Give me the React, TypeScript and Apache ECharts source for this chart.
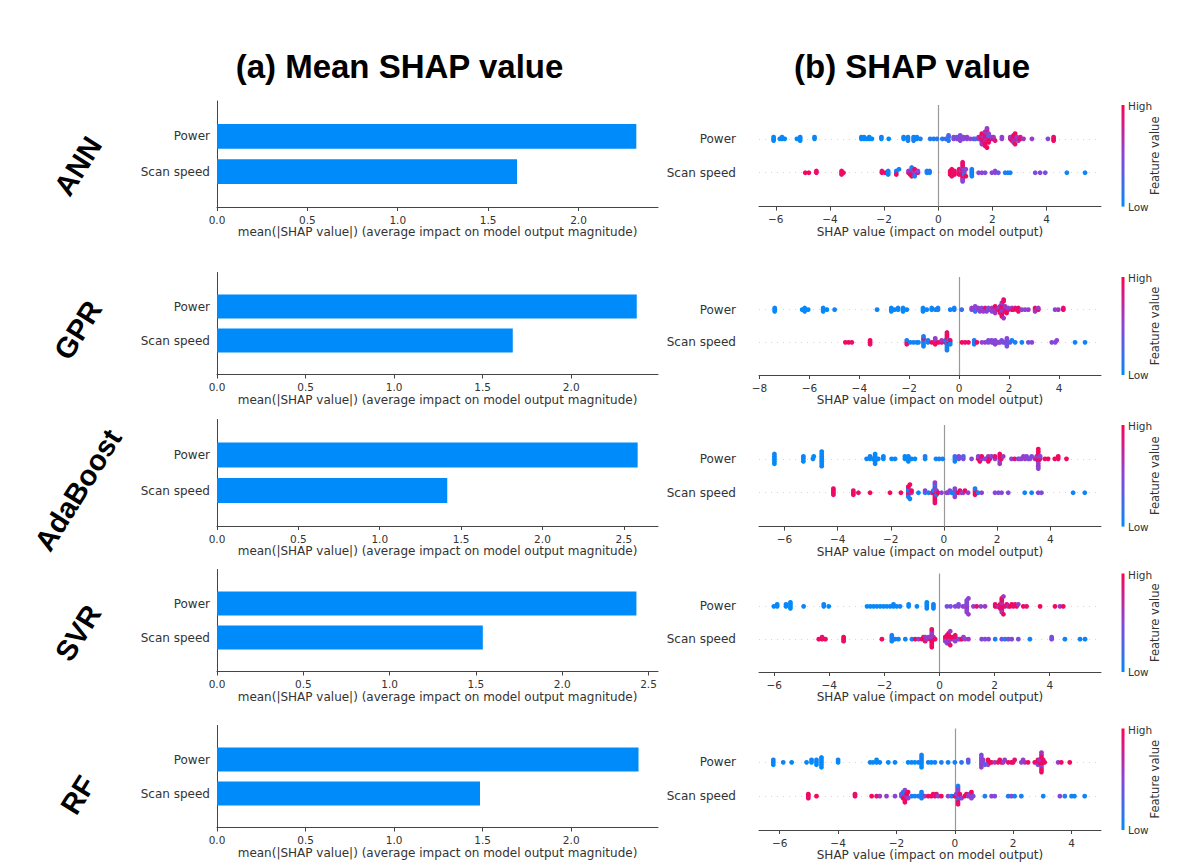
import React, { useEffect, useRef } from 'react';
import * as echarts from 'echarts';

// ---------- data ----------
const models = ['ANN', 'GPR', 'AdaBoost', 'SVR', 'RF'];
const featureNames = ['Scan speed', 'Power']; // y = 0, y = 1
const meanPower = [2.32, 2.37, 2.585, 2.43, 2.38];
const meanScan = [1.66, 1.67, 1.415, 1.54, 1.485];
const barAxisMax = [2.44, 2.49, 2.71, 2.555, 2.49];
const barTicks = [0, 0.5, 1, 1.5, 2, 2.5];
const swarmAxisMin = [-6.62, -8.02, -6.96, -6.55, -6.71];
const swarmAxisMax = [6.01, 5.68, 5.91, 5.86, 5.01];
const swarmTicks = [-8, -6, -4, -2, 0, 2, 4];

// [SHAP value, feature value (0 = low, 1 = high)]
const annPower = [
  [-6.08, 0], [-6.08, 0], [-6.08, 0.05], [-5.85, 0], [-5.77, 0], [-5.77, 0.05], [-5.67, 0],
  [-5.22, 0], [-5.1, 0], [-5.1, 0.05], [-5.1, 0], [-4.57, 0], [-4.57, 0.05],
  [-2.84, 0.05], [-2.84, 0], [-2.74, 0], [-2.74, 0.05], [-2.64, 0], [-2.55, 0.05], [-2.55, 0], [-2.45, 0],
  [-2.1, 0], [-2.1, 0.05], [-1.83, 0],
  [-1.28, 0], [-1.28, 0.05], [-1.12, 0], [-1.12, 0.05], [-1.12, 0.1], [-0.91, 0], [-0.91, 0.05], [-0.91, 0.1],
  [-0.79, 0.05], [-0.79, 0], [-0.66, 0.1], [-0.3, 0.1], [-0.17, 0.1], [-0.05, 0.15],
  [0.15, 0.15], [0.28, 0.2], [0.38, 0.1], [0.38, 0.15], [0.38, 0.3],
  [0.57, 0.45], [0.57, 0.5], [0.69, 0.5], [0.69, 0.4], [0.81, 0.5], [0.81, 0.55], [0.81, 0.5], [0.81, 0.45], [0.93, 0.45], [0.93, 0.5],
  [1.06, 0.5], [1.06, 0.55], [1.18, 0.5], [1.3, 0.45], [1.37, 0.2],
  [1.49, 0.6], [1.49, 0.5], [1.55, 0.5], [1.55, 0.9], [1.61, 0.9], [1.61, 0.7], [1.61, 0.55], [1.61, 0.95], [1.61, 0.6],
  [1.67, 0.9], [1.67, 0.6], [1.67, 0.95],
  [1.73, 0.95], [1.73, 0.85], [1.73, 0.6], [1.73, 0.9], [1.73, 0.75], [1.73, 0.9], [1.73, 0.95], [1.73, 0.55], [1.73, 0.95],
  [1.8, 0.9], [1.8, 0.95], [1.8, 0.55],
  [1.86, 0.9], [1.86, 0.6], [1.86, 0.95], [1.86, 0.2], [1.86, 0.95], [1.86, 0.5], [1.98, 0.9], [1.98, 0.55], [2.04, 0.95], [2.04, 0.6], [2.1, 0.85],
  [2.35, 0.5], [2.35, 0.55], [2.66, 0.95], [2.66, 0.6], [2.72, 0.95], [2.78, 0.9], [2.78, 0.95], [2.78, 0.7], [2.78, 0.95], [2.78, 0.6],
  [2.84, 0.95], [2.84, 0.9], [2.9, 0.9], [2.9, 0.55], [2.96, 0.6], [3.03, 0.95], [3.03, 0.8], [3.15, 0.6], [3.46, 0.55],
  [4.05, 0.5], [4.26, 0.95], [4.26, 0.9], [4.26, 0.95],
];
const annScan = [
  [-4.91, 0.95], [-4.78, 0.95], [-4.5, 0.95], [-4.5, 0.9], [-3.57, 0.95], [-3.57, 0.95], [-3.57, 0.9], [-3.5, 0.95],
  [-2.08, 0.95], [-2.08, 0.9], [-1.96, 0.95], [-1.85, 0.05], [-1.85, 0.1], [-1.85, 0.05],
  [-1.55, 0.05], [-1.55, 0.1], [-1.55, 0.95], [-1.45, 0.05],
  [-1.1, 0.95], [-1.1, 0.6], [-1.04, 0.9], [-0.98, 0.9], [-0.98, 0.6], [-0.98, 0.95], [-0.98, 0.3], [-0.98, 0.95], [-0.98, 0.1],
  [-0.92, 0.95], [-0.92, 0.55],
  [-0.87, 0.55], [-0.87, 0.95], [-0.87, 0.1], [-0.75, 0.9], [-0.75, 0.5], [-0.42, 0.05], [-0.42, 0.1], [-0.32, 0.05], [-0.32, 0.1],
  [0.44, 0.95], [0.44, 0.9], [0.44, 0.95], [0.5, 0.95], [0.5, 0.9], [0.6, 0.95], [0.6, 0.9], [0.6, 0.95],
  [0.77, 0.95], [0.77, 0.6], [0.77, 0.9], [0.77, 0.95], [0.84, 0.95], [0.84, 0.6], [0.84, 0.9],
  [0.9, 0.95], [0.9, 0.9], [0.9, 0.55], [0.9, 0.95], [0.9, 0.85], [0.9, 0.6], [0.9, 0.95], [0.9, 0.5], [0.9, 0.9],
  [0.96, 0.95], [0.96, 0.55], [0.96, 0.1], [1.02, 0.5], [1.02, 0.95],
  [1.24, 0.05], [1.24, 0.1], [1.24, 0.05], [1.24, 0.1], [1.24, 0.05], [1.49, 0.5], [1.61, 0.5], [1.73, 0.45],
  [1.98, 0.5], [2.1, 0.45], [2.1, 0.5], [2.22, 0.4], [2.47, 0.1], [2.57, 0.1], [2.66, 0.05],
  [3.58, 0.45], [3.76, 0.5], [3.95, 0.4], [4.75, 0.05], [5.42, 0.05],
];
const gprPower = [
  [-7.39, 0], [-7.39, 0.05], [-7.39, 0], [-6.29, 0], [-6.19, 0], [-6.19, 0.05], [-6.05, 0],
  [-5.45, 0], [-5.45, 0.05], [-5.45, 0], [-5.3, 0], [-4.99, 0.05], [-3.29, 0.05],
  [-2.72, 0], [-2.72, 0.05], [-2.72, 0], [-2.59, 0.05], [-2.45, 0], [-2.45, 0.05], [-2.25, 0], [-2.25, 0.05], [-2.25, 0], [-2.1, 0.05],
  [-1.45, 0], [-1.45, 0.05], [-1.45, 0], [-1.3, 0.05], [-1.1, 0], [-1.1, 0.05], [-0.95, 0], [-0.85, 0.05], [-0.85, 0.1],
  [-0.36, 0.05], [-0.2, 0.1], [-0.2, 0.05], [0.1, 0.2],
  [0.5, 0.5], [0.5, 0.55], [0.64, 0.45], [0.64, 0.5], [0.64, 0.2], [0.64, 0.5], [0.77, 0.5], [0.77, 0.55], [0.83, 0.5],
  [0.9, 0.6], [0.9, 0.5], [0.97, 0.55], [1.04, 0.5], [1.04, 0.9], [1.1, 0.5], [1.17, 0.55], [1.17, 0.45], [1.24, 0.5],
  [1.31, 0.6], [1.31, 0.5], [1.44, 0.9], [1.44, 0.5], [1.44, 0.55], [1.44, 0.95], [1.44, 0.6], [1.57, 0.95], [1.57, 0.6],
  [1.64, 0.95], [1.64, 0.55], [1.64, 0.9],
  [1.71, 0.9], [1.71, 0.95], [1.71, 0.5], [1.71, 0.85], [1.71, 0.6], [1.71, 0.95], [1.71, 0.9], [1.71, 0.55], [1.71, 0.95],
  [1.78, 0.95], [1.78, 0.6], [1.78, 0.9],
  [1.84, 0.95], [1.84, 0.55], [1.84, 0.9], [1.84, 0.6], [1.9, 0.95], [1.97, 0.9], [1.97, 0.5],
  [2.11, 0.95], [2.11, 0.6], [2.17, 0.9], [2.24, 0.85], [2.3, 0.95], [2.37, 0.95], [2.37, 0.9], [2.51, 0.55], [2.64, 0.5], [2.77, 0.55],
  [3.04, 0.95], [3.04, 0.9], [3.04, 0.6], [3.17, 0.95], [3.17, 0.55], [3.84, 0.5], [3.97, 0.6], [4.17, 0.95], [4.17, 0.9],
];
const gprScan = [
  [-4.56, 0.95], [-4.43, 0.95], [-4.3, 0.9], [-3.57, 0.95], [-3.57, 0.95], [-3.57, 0.9],
  [-2.1, 0.95], [-2.1, 0.05], [-2.1, 0.9], [-1.96, 0.05], [-1.83, 0.05], [-1.7, 0.1], [-1.63, 0.05],
  [-1.43, 0.05], [-1.43, 0.1], [-1.43, 0.05], [-1.43, 0.95], [-1.43, 0.05], [-1.43, 0.1], [-1.25, 0.05], [-1.25, 0.1],
  [-1.1, 0.95], [-0.96, 0.9], [-0.96, 0.6], [-0.96, 0.95], [-0.96, 0.55], [-0.83, 0.95], [-0.7, 0.9], [-0.7, 0.6],
  [-0.55, 0.9], [-0.55, 0.1],
  [-0.49, 0.05], [-0.49, 0.95], [-0.49, 0.1], [-0.49, 0.9], [-0.49, 0.05], [-0.49, 0.95], [-0.49, 0.1], [-0.49, 0.9],
  [-0.42, 0.95], [-0.42, 0.05], [-0.36, 0.05], [-0.36, 0.95], [-0.36, 0.05],
  [0.11, 0.95], [0.24, 0.9], [0.37, 0.95], [0.6, 0.05], [0.6, 0.1], [0.6, 0.05], [0.71, 0.95],
  [0.91, 0.5], [1.04, 0.55], [1.17, 0.5], [1.17, 0.45], [1.31, 0.5], [1.3, 0.5], [1.37, 0.45], [1.44, 0.5], [1.44, 0.55],
  [1.51, 0.45], [1.57, 0.5], [1.64, 0.5], [1.7, 0.45], [1.77, 0.4], [1.84, 0.5], [1.91, 0.5], [1.91, 0.3], [1.91, 0.5], [1.91, 0.45],
  [2.04, 0.35], [2.11, 0.05],
  [2.24, 0.1], [2.51, 0.05], [2.77, 0.45], [2.91, 0.5], [3.71, 0.5], [3.85, 0.45], [3.91, 0.5], [4.64, 0.05], [5.04, 0.05],
];
const adaPower = [
  [-6.38, 0], [-6.38, 0.05], [-6.38, 0], [-6.38, 0.05], [-6.38, 0], [-5.29, 0], [-5.29, 0.05], [-5.29, 0], [-4.93, 0.05], [-4.9, 0],
  [-4.6, 0], [-4.6, 0.05], [-4.6, 0], [-4.6, 0.05], [-4.6, 0], [-4.6, 0], [-4.6, 0.05],
  [-2.91, 0.05], [-2.78, 0], [-2.78, 0.05], [-2.66, 0], [-2.59, 0.05], [-2.59, 0], [-2.59, 0], [-2.59, 0.05], [-2.47, 0.05], [-2.28, 0], [-2.28, 0.05],
  [-1.97, 0], [-1.84, 0.05], [-1.47, 0], [-1.47, 0.05], [-1.34, 0], [-1.34, 0.05], [-1.34, 0], [-1.22, 0.05], [-1.09, 0],
  [-0.71, 0.05], [-0.71, 0.1], [-0.3, 0.05], [-0.18, 0.1], [-0.05, 0.05],
  [0.41, 0.1], [0.41, 0.2], [0.41, 0.05], [0.56, 0.4], [0.56, 0.5], [0.73, 0.45], [0.73, 0.3], [1.04, 0.5],
  [1.29, 0.9], [1.29, 0.5], [1.35, 0.95], [1.42, 0.55], [1.42, 0.95], [1.54, 0.5], [1.6, 0.5], [1.67, 0.6], [1.67, 0.95], [1.73, 0.95],
  [1.79, 0.5], [1.92, 0.55], [1.92, 0.9],
  [2.1, 0.95], [2.1, 0.9], [2.1, 0.5], [2.1, 0.95], [2.1, 0.6], [2.16, 0.9], [2.23, 0.6], [2.54, 0.5], [2.66, 0.9], [2.79, 0.55],
  [2.86, 0.5], [2.92, 0.5], [2.99, 0.55], [3.05, 0.55], [3.11, 0.5], [3.17, 0.5], [3.24, 0.5], [3.3, 0.45], [3.42, 0.55],
  [3.49, 0.95], [3.49, 0.55],
  [3.55, 0.95], [3.55, 0.9], [3.55, 0.5], [3.55, 0.95], [3.55, 0.6], [3.55, 0.95], [3.55, 0.5],
  [3.62, 0.9], [3.62, 0.5], [3.8, 0.9], [3.92, 0.95],
  [4.17, 0.95], [4.3, 0.9], [4.3, 0.95], [4.61, 0.95],
];
const adaScan = [
  [-4.16, 0.95], [-4.16, 0.95], [-4.16, 0.9], [-4.16, 0.95], [-3.41, 0.95], [-3.41, 0.9], [-3.41, 0.95], [-3.22, 0.9],
  [-2.78, 0.95], [-2.03, 0.95], [-1.62, 0.95],
  [-1.34, 0.95], [-1.34, 0.05], [-1.34, 0.9], [-1.34, 0.1], [-1.34, 0.05], [-1.34, 0.95], [-1.28, 0.05], [-1.28, 0.95],
  [-1.22, 0.6], [-1.22, 0.95],
  [-0.96, 0.05], [-0.71, 0.05], [-0.71, 0.5], [-0.58, 0.1], [-0.46, 0.6], [-0.4, 0.9], [-0.4, 0.1],
  [-0.34, 0.95], [-0.34, 0.05], [-0.34, 0.9], [-0.34, 0.6], [-0.34, 0.95], [-0.34, 0.1], [-0.34, 0.95], [-0.34, 0.55], [-0.34, 0.9],
  [-0.28, 0.95], [-0.28, 0.5], [-0.28, 0.05], [-0.22, 0.95], [-0.09, 0.5],
  [0.1, 0.55], [0.16, 0.5], [0.22, 0.5], [0.29, 0.05], [0.35, 0.05], [0.41, 0.55], [0.41, 0.1], [0.41, 0.5], [0.41, 0.55],
  [0.54, 0.95], [0.6, 0.95], [0.66, 0.6], [0.73, 0.55], [0.79, 0.9], [0.91, 0.55],
  [1.17, 0.95], [1.17, 0.9], [1.17, 0.95], [1.17, 0.1], [1.23, 0.95], [1.29, 0.05], [1.42, 0.5],
  [1.92, 0.5], [2.05, 0.45], [2.17, 0.5], [2.42, 0.45],
  [3.04, 0.05], [3.3, 0.05], [3.55, 0.5], [3.67, 0.45], [4.86, 0.05], [5.3, 0.05],
];
const svrPower = [
  [-6.01, 0], [-5.89, 0.05], [-5.89, 0], [-5.57, 0], [-5.57, 0.05], [-5.41, 0], [-5.41, 0.05], [-5.41, 0], [-5.41, 0],
  [-4.93, 0.05], [-4.2, 0], [-4.2, 0.05], [-4.02, 0],
  [-2.63, 0], [-2.51, 0.05], [-2.39, 0], [-2.27, 0.05], [-2.15, 0], [-2.03, 0.05], [-1.91, 0], [-1.79, 0.05],
  [-1.67, 0], [-1.67, 0.05], [-1.55, 0], [-1.43, 0.05], [-1.12, 0], [-1.12, 0.05], [-0.82, 0],
  [-0.46, 0.05], [-0.46, 0], [-0.46, 0.05], [-0.46, 0], [-0.22, 0], [-0.22, 0.1], [-0.22, 0.05],
  [0.27, 0.4], [0.4, 0.45], [0.57, 0.5], [0.69, 0.5], [0.69, 0.45], [0.85, 0.55], [0.93, 0.5],
  [0.99, 0.5], [0.99, 0.4], [0.99, 0.6], [0.99, 0.55], [0.99, 0.5], [0.99, 0.45], [0.99, 0.5],
  [1.05, 0.5], [1.05, 0.55], [1.23, 0.55], [1.35, 0.9], [1.5, 0.5], [1.65, 0.6],
  [2.02, 0.95], [2.02, 0.9], [2.08, 0.95], [2.14, 0.6], [2.2, 0.95], [2.2, 0.9],
  [2.26, 0.95], [2.26, 0.9], [2.26, 0.95], [2.26, 0.55], [2.26, 0.9], [2.26, 0.95], [2.26, 0.6], [2.26, 0.95],
  [2.32, 0.95], [2.32, 0.6], [2.38, 0.9], [2.44, 0.9], [2.5, 0.6], [2.56, 0.95], [2.62, 0.95], [2.68, 0.9],
  [2.74, 0.9], [2.8, 0.95], [2.86, 0.55], [3.04, 0.95], [3.16, 0.9], [3.65, 0.95], [4.19, 0.95], [4.37, 0.6], [4.49, 0.95],
];
const svrScan = [
  [-4.38, 0.95], [-4.26, 0.95], [-4.26, 0.9], [-4.14, 0.95], [-3.48, 0.95], [-3.48, 0.95], [-3.48, 0.9], [-2.09, 0.95],
  [-1.73, 0.05], [-1.73, 0.1], [-1.73, 0.05], [-1.73, 0.1], [-1.61, 0.05], [-1.49, 0.05], [-1.24, 0.05], [-1.0, 0.1],
  [-0.88, 0.95], [-0.76, 0.55], [-0.64, 0.9], [-0.58, 0.95], [-0.52, 0.95], [-0.52, 0.6], [-0.52, 0.9], [-0.46, 0.6], [-0.4, 0.5],
  [-0.34, 0.9], [-0.34, 0.55],
  [-0.28, 0.95], [-0.28, 0.6], [-0.28, 0.95], [-0.28, 0.6], [-0.28, 0.9], [-0.28, 0.55], [-0.28, 0.95], [-0.28, 0.9],
  [-0.22, 0.95], [-0.22, 0.6], [-0.16, 0.95],
  [0.21, 0.55], [0.21, 0.95], [0.21, 0.5], [0.27, 0.95], [0.27, 0.5],
  [0.33, 0.9], [0.33, 0.9], [0.33, 0.55], [0.33, 0.95], [0.33, 0.6], [0.33, 0.95], [0.39, 0.9], [0.39, 0.6],
  [0.45, 0.6], [0.45, 0.95], [0.57, 0.5], [0.57, 0.9], [0.57, 0.5], [0.57, 0.9],
  [0.69, 0.55], [0.75, 0.5], [0.81, 0.95], [0.87, 0.55], [0.93, 0.5], [1.05, 0.6], [1.53, 0.5], [1.65, 0.45], [1.78, 0.5],
  [2.02, 0.1], [2.26, 0.45], [2.38, 0.1], [2.5, 0.4], [2.62, 0.5], [2.86, 0.45], [3.28, 0.05],
  [4.07, 0.5], [4.07, 0.45], [4.55, 0.05], [5.1, 0.05], [5.28, 0.05],
];
const rfPower = [
  [-6.22, 0], [-6.22, 0.05], [-6.22, 0], [-5.88, 0.05], [-5.59, 0],
  [-5.08, 0.05], [-4.91, 0], [-4.91, 0.05], [-4.74, 0], [-4.74, 0.05], [-4.74, 0],
  [-4.57, 0.05], [-4.57, 0], [-4.57, 0.05], [-4.57, 0], [-4.57, 0],
  [-4.0, 0], [-4.0, 0.05], [-2.9, 0.05], [-2.8, 0], [-2.68, 0.05], [-2.68, 0], [-2.57, 0.05], [-2.28, 0], [-2.05, 0.05],
  [-1.6, 0], [-1.48, 0.05], [-1.37, 0], [-1.25, 0.05],
  [-1.14, 0], [-1.14, 0.05], [-1.14, 0], [-1.14, 0.1], [-1.14, 0], [-1.14, 0.05],
  [-0.91, 0.05], [-0.8, 0], [-0.68, 0.05], [-0.46, 0.1], [-0.23, 0.05],
  [0.0, 0.1], [0.23, 0.15], [0.46, 0.2], [0.46, 0.4],
  [0.91, 0.5], [0.91, 0.45], [0.91, 0.55], [0.91, 0.5], [0.91, 0.55], [0.91, 0.45], [0.97, 0.5], [0.97, 0.55],
  [1.03, 0.3], [1.14, 0.5], [1.14, 0.95], [1.14, 0.5], [1.2, 0.95],
  [1.26, 0.95], [1.37, 0.6], [1.48, 0.9], [1.54, 0.9], [1.6, 0.95], [1.66, 0.55], [1.71, 0.55], [1.83, 0.9], [1.94, 0.95],
  [2.0, 0.95], [2.05, 0.9], [2.28, 0.5], [2.34, 0.55], [2.4, 0.6], [2.51, 0.95], [2.74, 0.95], [2.8, 0.9], [2.85, 0.9], [2.85, 0.5],
  [2.91, 0.95], [2.91, 0.6],
  [2.97, 0.95], [2.97, 0.9], [2.97, 0.55], [2.97, 0.95], [2.97, 0.9], [2.97, 0.6], [2.97, 0.95],
  [3.03, 0.95], [3.03, 0.9], [3.08, 0.95],
  [3.54, 0.55], [3.65, 0.95], [3.94, 0.95],
];
const rfScan = [
  [-5.02, 0.95], [-5.02, 0.95], [-5.02, 0.9], [-4.74, 0.95], [-3.42, 0.95], [-3.42, 0.9],
  [-2.85, 0.95], [-2.68, 0.9], [-2.57, 0.6], [-2.34, 0.55], [-2.05, 0.5],
  [-1.83, 0.05], [-1.83, 0.5], [-1.77, 0.95], [-1.77, 0.05],
  [-1.71, 0.95], [-1.71, 0.05], [-1.71, 0.95], [-1.71, 0.05], [-1.71, 0.9], [-1.71, 0.5], [-1.71, 0.95],
  [-1.65, 0.55], [-1.65, 0.95], [-1.6, 0.55], [-1.6, 0.95], [-1.48, 0.1],
  [-1.37, 0.05], [-1.25, 0.1], [-1.14, 0.05], [-1.14, 0.05], [-1.14, 0.05], [-1.14, 0.1], [-1.03, 0.5], [-0.91, 0.95],
  [-0.8, 0.95], [-0.74, 0.95], [-0.68, 0.9], [-0.63, 0.9], [-0.57, 0.55], [-0.46, 0.95],
  [-0.23, 0.5], [-0.11, 0.05], [0.0, 0.95], [0.05, 0.95], [0.05, 0.5],
  [0.11, 0.5], [0.11, 0.55], [0.11, 0.1], [0.11, 0.5], [0.11, 0.95], [0.11, 0.55], [0.11, 0.9], [0.11, 0.1],
  [0.17, 0.55], [0.17, 0.9],
  [0.23, 0.5], [0.34, 0.95], [0.4, 0.95], [0.46, 0.6], [0.51, 0.5], [0.57, 0.5], [0.57, 0.55], [0.57, 0.5], [0.57, 0.95], [0.63, 0.45],
  [1.03, 0.1], [1.26, 0.5], [1.37, 0.45], [1.83, 0.1], [1.94, 0.5], [2.05, 0.05], [2.28, 0.1],
  [3.03, 0.05], [3.6, 0.5], [3.77, 0.1], [4.0, 0.05], [4.1, 0.05], [4.45, 0.05],
];
const powerPoints = [annPower, gprPower, adaPower, svrPower, rfPower];
const scanPoints = [annScan, gprScan, adaScan, svrScan, rfScan];

// ---------- layout (pixels) ----------
const rowLayout = [
  { barTop: 101, barH: 106, swTop: 105, swH: 101.6, labelY: 166 },
  { barTop: 272.5, barH: 102, swTop: 277, swH: 98, labelY: 330 },
  { barTop: 419.5, barH: 106.5, swTop: 425, swH: 101.6, labelY: 490 },
  { barTop: 569.5, barH: 102, swTop: 573.5, swH: 98.5, labelY: 633 },
  { barTop: 725.5, barH: 102, swTop: 728.5, swH: 101.5, labelY: 795 },
];
const BAR_LEFT = 217, BAR_W = 441, SW_LEFT = 759, SW_W = 342;
const AX = '#333333';
const FONT = '"DejaVu Sans", sans-serif';
const BLUE = '#008bfb', RED = '#ff0052', MID = '#8a45d8';

const stops: [number, number[]][] = [[0, [0, 139, 251]], [0.5, [138, 69, 216]], [1, [255, 0, 82]]];
function featColor(f: number) {
  let i = 0;
  while (i < stops.length - 2 && f > stops[i + 1][0]) i++;
  const [a, ca] = stops[i], [b, cb] = stops[i + 1];
  const t = Math.max(0, Math.min(1, (f - a) / (b - a)));
  const c = ca.map((v, k) => Math.round(v + (cb[k] - v) * t));
  return `rgb(${c[0]},${c[1]},${c[2]})`;
}

// shap beeswarm layout of one feature row
function swarm(points: number[][], row: number) {
  const xs = points.map(p => p[0]);
  const mn = Math.min(...xs), mx = Math.max(...xs);
  const quant = xs.map(x => Math.round((100 * (x - mn)) / (mx - mn + 1e-8)));
  const inds = xs.map((_, i) => i).sort((a, b) => quant[a] - quant[b] || a - b);
  const ys = new Array(xs.length).fill(0);
  let layer = 0, last = -1;
  for (const i of inds) {
    if (quant[i] !== last) layer = 0;
    ys[i] = Math.ceil(layer / 2) * ((layer % 2) * 2 - 1);
    layer++;
    last = quant[i];
  }
  const m = Math.max(...ys.map(y => y + 1));
  const s = 0.9 * (0.4 / m);
  return points.map((p, i) => [p[0], row + ys[i] * s, p[1]]);
}

const minus = (v: number) => (v < 0 ? '\u2212' + Math.abs(v) : String(v));

function buildOption() {
  const grid: any[] = [], xAxis: any[] = [], yAxis: any[] = [], series: any[] = [], graphic: any[] = [];
  models.forEach((model, i) => {
    const L = rowLayout[i];
    grid.push({ left: BAR_LEFT, top: L.barTop, width: BAR_W, height: L.barH, containLabel: false, outerBoundsMode: 'none' });
    grid.push({ left: SW_LEFT, top: L.swTop, width: SW_W, height: L.swH, containLabel: false, outerBoundsMode: 'none' });
    const bTicks = barTicks.filter(t => t <= barAxisMax[i]);
    const sTicks = swarmTicks.filter(t => t >= swarmAxisMin[i] && t <= swarmAxisMax[i]);
    const xCommon = {
      type: 'value',
      axisLine: { show: true, onZero: false, lineStyle: { color: '#444', width: 1 } },
      splitLine: { show: false },
      nameLocation: 'middle',
      nameGap: 19,
      nameTextStyle: { fontSize: 12, color: AX, fontFamily: FONT },
    };
    xAxis.push({
      ...xCommon, gridIndex: 2 * i, min: 0, max: barAxisMax[i],
      name: 'mean(|SHAP value|) (average impact on model output magnitude)',
      axisTick: { show: true, length: 4, lineStyle: { color: '#444' }, customValues: bTicks },
      axisLabel: { customValues: bTicks, formatter: (v: number) => v.toFixed(1), fontSize: 10.5, color: AX, margin: 7, fontFamily: FONT },
    });
    xAxis.push({
      ...xCommon, gridIndex: 2 * i + 1, min: swarmAxisMin[i], max: swarmAxisMax[i],
      name: 'SHAP value (impact on model output)',
      axisTick: { show: true, length: 4, lineStyle: { color: '#444' }, customValues: sTicks },
      axisLabel: { customValues: sTicks, formatter: minus, fontSize: 10.5, color: AX, margin: 7, fontFamily: FONT },
    });
    const yLabel = (v: number) => (v === 0 || v === 1 ? featureNames[v] : '');
    yAxis.push({
      gridIndex: 2 * i, type: 'value', min: -1, max: 2, interval: 1,
      axisLine: { show: true, onZero: false, lineStyle: { color: '#444', width: 1 } },
      axisTick: { show: false }, splitLine: { show: false },
      axisLabel: { formatter: yLabel, fontSize: 12, color: AX, margin: 7, fontFamily: FONT },
    });
    yAxis.push({
      gridIndex: 2 * i + 1, type: 'value', min: -1, max: 2, interval: 1,
      axisLine: { show: false, onZero: false }, axisTick: { show: false }, splitLine: { show: false },
      axisLabel: { formatter: yLabel, fontSize: 12, color: AX, margin: 23, fontFamily: FONT },
    });
    series.push({
      type: 'custom', xAxisIndex: 2 * i, yAxisIndex: 2 * i,
      data: [[meanPower[i], 1], [meanScan[i], 0]],
      encode: { x: 0, y: 1 },
      renderItem: (params: any, api: any) => {
        const v = api.value(0), y = api.value(1);
        const p0 = api.coord([0, y]), p1 = api.coord([v, y]);
        const h = api.size([0, 0.7])[1];
        return { type: 'rect', shape: { x: p0[0], y: p0[1] - h / 2, width: p1[0] - p0[0], height: h }, style: { fill: BLUE } };
      },
    });
    series.push({
      type: 'scatter', xAxisIndex: 2 * i + 1, yAxisIndex: 2 * i + 1, z: 3,
      symbolSize: 4.8,
      data: [...swarm(powerPoints[i], 1), ...swarm(scanPoints[i], 0)],
      itemStyle: { color: (p: any) => featColor(p.value[2]), opacity: 1 },
      markLine: {
        silent: true, symbol: ['none', 'none'], label: { show: false }, z: 1, animation: false,
        data: [
          { yAxis: 1, lineStyle: { color: '#cccccc', type: [1, 5], width: 0.8 } },
          { yAxis: 0, lineStyle: { color: '#cccccc', type: [1, 5], width: 0.8 } },
          { xAxis: 0, lineStyle: { color: '#999999', type: 'solid', width: 1.2 } },
        ],
      },
    });
    // colorbar
    graphic.push({
      type: 'rect', shape: { x: 1121.5, y: L.swTop, width: 3, height: L.swH },
      style: { fill: { type: 'linear', x: 0, y: 0, x2: 0, y2: 1, colorStops: [{ offset: 0, color: RED }, { offset: 0.5, color: MID }, { offset: 1, color: BLUE }] } },
    });
    graphic.push({ type: 'text', x: 1128, y: L.swTop + 1, style: { text: 'High', fontSize: 10.5, fontFamily: FONT, fill: AX, align: 'left', verticalAlign: 'middle' } });
    graphic.push({ type: 'text', x: 1128, y: L.swTop + L.swH, style: { text: 'Low', fontSize: 10.5, fontFamily: FONT, fill: AX, align: 'left', verticalAlign: 'middle' } });
    graphic.push({ type: 'text', x: 1155, y: L.swTop + L.swH / 2, rotation: Math.PI / 2, style: { text: 'Feature value', fontSize: 11.5, fontFamily: FONT, fill: AX, align: 'center', verticalAlign: 'middle' } });
    // model label
    graphic.push({ type: 'text', x: 78, y: L.labelY, rotation: (58 * Math.PI) / 180, style: { text: model, fontSize: 29, fontWeight: 'bold', fontFamily: '"Liberation Sans", Arial, sans-serif', fill: '#000', align: 'center', verticalAlign: 'middle' } });
  });
  graphic.push({ type: 'text', x: 399.5, y: 66, style: { text: '(a) Mean SHAP value', fontSize: 33, fontWeight: 'bold', fontFamily: '"Liberation Sans", Arial, sans-serif', fill: '#000', align: 'center', verticalAlign: 'middle' } });
  graphic.push({ type: 'text', x: 912, y: 66, style: { text: '(b) SHAP value', fontSize: 33, fontWeight: 'bold', fontFamily: '"Liberation Sans", Arial, sans-serif', fill: '#000', align: 'center', verticalAlign: 'middle' } });
  return {
    animation: false,
    backgroundColor: '#ffffff',
    textStyle: { fontFamily: FONT },
    grid, xAxis, yAxis, series, graphic,
  };
}

export default function App() {
  const ref = useRef<HTMLDivElement>(null);
  useEffect(() => {
    if (!ref.current) return;
    const chart = echarts.init(ref.current, undefined, { renderer: 'svg' });
    chart.setOption(buildOption() as any);
    return () => chart.dispose();
  }, []);
  return <div ref={ref} style={{ position: 'fixed', left: 0, top: 0, width: 1183, height: 865 }} />;
}
